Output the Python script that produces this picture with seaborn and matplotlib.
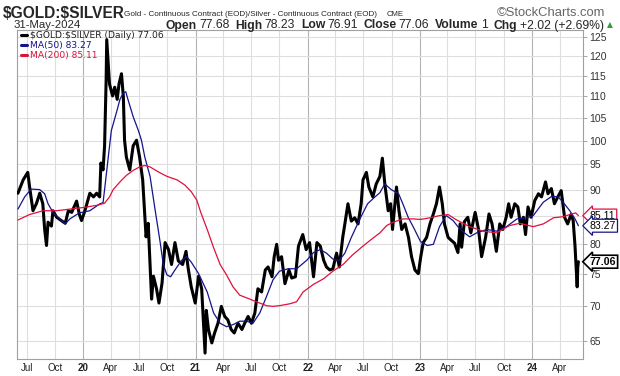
import pandas as pd
import seaborn as sns
import matplotlib.pyplot as plt
from matplotlib.lines import Line2D
from matplotlib.ticker import FixedLocator, FixedFormatter, NullLocator


price_dates = ['2019-06-03', '2019-06-20', '2019-07-05', '2019-07-11', '2019-07-22', '2019-08-02',
               '2019-08-13', '2019-08-23', '2019-08-29', '2019-09-04', '2019-09-09', '2019-09-20',
               '2019-09-25', '2019-10-07', '2019-10-22', '2019-11-04', '2019-11-14', '2019-11-25',
               '2019-12-11', '2019-12-20', '2019-12-27', '2020-01-07', '2020-01-23', '2020-02-04',
               '2020-02-14', '2020-02-24', '2020-02-28', '2020-03-06', '2020-03-11', '2020-03-16',
               '2020-03-18', '2020-03-23', '2020-03-27', '2020-04-06', '2020-04-13', '2020-04-21',
               '2020-04-27', '2020-05-05', '2020-05-11', '2020-05-15', '2020-05-21', '2020-06-01',
               '2020-06-12', '2020-06-23', '2020-07-03', '2020-07-13', '2020-07-20', '2020-07-24',
               '2020-07-31', '2020-08-06', '2020-08-11', '2020-08-17', '2020-08-27', '2020-09-04',
               '2020-09-14', '2020-09-24', '2020-10-05', '2020-10-15', '2020-10-26', '2020-11-06',
               '2020-11-20', '2020-12-01', '2020-12-08', '2020-12-18', '2020-12-31', '2021-01-11',
               '2021-01-21', '2021-02-01', '2021-02-05', '2021-02-12', '2021-02-23', '2021-03-04',
               '2021-03-15', '2021-03-26', '2021-04-06', '2021-04-16', '2021-04-27', '2021-05-07',
               '2021-05-19', '2021-06-01', '2021-06-10', '2021-06-21', '2021-07-02', '2021-07-13',
               '2021-07-23', '2021-08-04', '2021-08-16', '2021-08-25', '2021-09-07', '2021-09-14',
               '2021-09-22', '2021-09-28', '2021-10-08', '2021-10-19', '2021-11-01', '2021-11-10',
               '2021-11-22', '2021-12-02', '2021-12-16', '2021-12-27', '2022-01-07', '2022-01-20',
               '2022-01-31', '2022-02-11', '2022-02-22', '2022-03-03', '2022-03-14', '2022-03-24',
               '2022-04-05', '2022-04-14', '2022-04-25', '2022-05-02', '2022-05-12', '2022-05-23',
               '2022-06-03', '2022-06-14', '2022-06-24', '2022-06-30', '2022-07-11', '2022-07-19',
               '2022-08-01', '2022-08-12', '2022-08-24', '2022-09-01', '2022-09-09', '2022-09-20',
               '2022-09-28', '2022-10-04', '2022-10-12', '2022-10-17', '2022-10-25', '2022-11-03',
               '2022-11-14', '2022-11-25', '2022-12-05', '2022-12-16', '2022-12-27', '2023-01-04',
               '2023-01-12', '2023-01-23', '2023-02-03', '2023-02-14', '2023-02-24', '2023-03-06',
               '2023-03-15', '2023-03-22', '2023-04-03', '2023-04-13', '2023-04-24', '2023-05-05',
               '2023-05-12', '2023-05-17', '2023-05-26', '2023-06-06', '2023-06-16', '2023-06-30',
               '2023-07-11', '2023-07-21', '2023-08-03', '2023-08-14', '2023-08-24', '2023-09-07',
               '2023-09-18', '2023-09-28', '2023-10-09', '2023-10-17', '2023-10-25', '2023-11-06',
               '2023-11-16', '2023-11-24', '2023-12-04', '2023-12-11', '2023-12-19', '2023-12-29',
               '2024-01-10', '2024-01-22', '2024-02-01', '2024-02-14', '2024-02-22', '2024-03-04',
               '2024-03-14', '2024-03-25', '2024-04-05', '2024-04-16', '2024-04-26', '2024-05-07',
               '2024-05-14', '2024-05-20', '2024-05-23', '2024-05-27', '2024-05-29', '2024-05-31']
price_vals = [89.3, 91.9, 93.4, 90.5, 86.0, 87.3,
              89.3, 87.3, 82.6, 79.8, 83.9, 83.2,
              86.0, 84.8, 84.2, 83.7, 86.0, 85.7,
              87.8, 85.3, 84.2, 86.0, 89.3, 88.6,
              89.3, 88.6, 95.3, 93.9, 98.9, 113.7,
              124.3, 117.7, 113.0, 110.1, 112.2, 109.3,
              113.0, 115.5, 110.0, 100.1, 96.5, 93.9,
              98.9, 100.1, 96.5, 91.9, 85.0, 81.3,
              83.7, 76.6, 71.1, 74.7, 72.7, 70.5,
              73.6, 80.3, 79.1, 76.6, 80.3, 77.2,
              76.6, 78.8, 76.0, 73.0, 70.5, 74.7,
              72.7, 63.3, 69.4, 66.6, 64.7, 66.1,
              67.5, 70.0, 68.5, 68.0, 66.6, 66.1,
              67.5, 66.6, 67.5, 68.5, 67.5, 69.0,
              72.7, 72.2, 75.7, 76.2, 74.6, 77.9,
              80.0, 77.3, 77.9, 73.5, 75.7, 74.4,
              74.6, 79.7, 81.7, 79.1, 80.3, 74.6,
              80.3, 79.7, 77.3, 76.2, 75.7, 75.9,
              78.5, 76.2, 81.2, 83.6, 87.3, 84.1,
              84.7, 83.6, 87.3, 91.9, 93.4, 90.5,
              88.6, 91.1, 92.6, 96.3, 91.1, 86.0,
              87.3, 82.6, 87.3, 90.5, 86.0, 82.6,
              83.6, 81.2, 77.9, 75.7, 75.1, 77.9,
              80.3, 81.2, 83.6, 85.4, 87.3, 90.5,
              87.3, 83.6, 81.2, 80.7, 80.2, 78.6,
              83.6, 79.5, 84.0, 84.8, 82.0, 85.7,
              82.6, 77.9, 81.2, 85.4, 83.6, 78.8,
              83.6, 82.6, 84.8, 87.3, 84.8, 87.3,
              86.7, 83.6, 84.8, 81.7, 86.7, 84.8,
              87.9, 89.2, 88.6, 91.5, 89.2, 90.2,
              87.3, 88.6, 89.8, 84.8, 83.6, 85.3,
              84.2, 79.7, 76.6, 73.0, 76.2, 77.06]

ma50_dates = ['2019-06-03', '2019-06-25', '2019-07-16', '2019-08-13', '2019-08-29', '2019-09-09',
              '2019-09-25', '2019-10-17', '2019-11-04', '2019-11-19', '2019-12-20', '2020-01-23',
              '2020-02-25', '2020-03-06', '2020-03-11', '2020-03-23', '2020-04-02', '2020-04-20',
              '2020-04-30', '2020-05-11', '2020-05-19', '2020-05-26', '2020-06-12', '2020-06-29',
              '2020-07-09', '2020-07-20', '2020-08-06', '2020-08-21', '2020-09-08', '2020-09-18',
              '2020-09-30', '2020-10-12', '2020-10-26', '2020-11-17', '2020-12-03', '2020-12-18',
              '2021-01-11', '2021-02-08', '2021-03-01', '2021-03-22', '2021-04-12', '2021-05-03',
              '2021-05-25', '2021-06-16', '2021-07-07', '2021-07-29', '2021-08-20', '2021-09-10',
              '2021-10-01', '2021-10-29', '2021-11-26', '2021-12-29', '2022-01-20', '2022-02-11',
              '2022-03-03', '2022-03-24', '2022-04-14', '2022-05-02', '2022-05-23', '2022-06-20',
              '2022-07-15', '2022-08-08', '2022-08-24', '2022-09-09', '2022-09-30', '2022-10-24',
              '2022-11-08', '2022-11-24', '2022-12-12', '2023-01-03', '2023-01-25', '2023-02-14',
              '2023-03-06', '2023-03-28', '2023-04-19', '2023-05-05', '2023-05-26', '2023-06-12',
              '2023-07-05', '2023-08-07', '2023-09-08', '2023-10-10', '2023-11-13', '2023-12-14',
              '2024-01-05', '2024-02-07', '2024-03-05', '2024-03-26', '2024-04-11', '2024-05-03',
              '2024-05-20', '2024-05-31']
ma50_vals = [86.3, 88.6, 90.1, 90.0, 89.2, 87.3,
             85.7, 84.5, 83.6, 84.5, 85.6, 86.0,
             87.3, 87.5, 90.0, 96.5, 102.2, 106.6,
             109.3, 110.8, 111.1, 109.3, 105.3, 102.2,
             100.1, 96.5, 92.6, 86.7, 80.3, 76.6,
             74.9, 74.6, 75.7, 77.3, 77.9, 77.0,
             75.1, 72.2, 69.0, 67.5, 67.0, 67.3,
             67.8, 67.8, 67.5, 69.0, 71.5, 74.1,
             75.5, 75.9, 75.9, 77.3, 78.6, 79.1,
             78.5, 77.5, 77.3, 78.5, 81.2, 84.5,
             87.3, 88.6, 89.4, 91.1, 90.0, 89.2,
             87.1, 84.8, 82.9, 80.5, 79.8, 80.0,
             83.1, 85.1, 84.2, 83.1, 82.0, 81.3,
             82.0, 82.6, 82.3, 83.1, 84.5, 84.7,
             85.1, 87.6, 88.7, 88.6, 87.6, 86.0,
             84.5, 83.27]

ma200_dates = ['2019-06-03', '2019-07-11', '2019-08-24', '2019-10-07', '2019-11-19', '2020-01-02',
               '2020-02-14', '2020-03-11', '2020-03-27', '2020-04-08', '2020-04-30', '2020-05-21',
               '2020-06-12', '2020-07-03', '2020-07-20', '2020-08-06', '2020-09-02', '2020-09-30',
               '2020-11-02', '2020-11-27', '2020-12-18', '2021-01-05', '2021-01-18', '2021-02-08',
               '2021-03-01', '2021-03-22', '2021-04-12', '2021-05-03', '2021-05-25', '2021-06-16',
               '2021-07-07', '2021-07-29', '2021-08-20', '2021-09-10', '2021-10-01', '2021-11-05',
               '2021-11-26', '2021-12-17', '2022-01-20', '2022-02-22', '2022-03-24', '2022-04-26',
               '2022-05-27', '2022-06-30', '2022-08-02', '2022-08-24', '2022-09-15', '2022-10-06',
               '2022-11-08', '2022-12-12', '2023-01-03', '2023-02-03', '2023-03-06', '2023-04-03',
               '2023-04-28', '2023-05-22', '2023-06-12', '2023-07-25', '2023-09-08', '2023-10-20',
               '2023-11-22', '2024-01-05', '2024-02-07', '2024-03-11', '2024-04-11', '2024-05-03',
               '2024-05-22', '2024-05-31']
ma200_vals = [84.3, 85.3, 86.0, 86.0, 86.3, 86.6,
              87.0, 87.4, 88.6, 90.0, 91.5, 92.8,
              93.8, 94.5, 94.8, 94.5, 93.5, 92.6,
              91.9, 90.9, 89.6, 88.0, 85.7, 82.6,
              79.4, 76.6, 74.9, 73.0, 71.7, 71.3,
              70.9, 70.5, 70.1, 70.0, 70.1, 70.4,
              70.7, 72.2, 73.4, 74.3, 75.5, 76.6,
              78.2, 79.7, 81.1, 82.0, 83.3, 83.9,
              84.5, 84.5, 84.4, 84.7, 85.1, 85.3,
              84.4, 83.7, 83.1, 82.3, 82.0, 83.3,
              83.7, 83.1, 83.6, 84.7, 84.9, 85.3,
              85.6, 85.11]

y_ticks = [65, 70, 75, 80, 85, 90, 95, 100, 105, 110, 115, 120, 125]
last_close, last_ma50, last_ma200 = 77.06, 83.27, 85.11

c_ma50 = '#14148c'
c_ma200 = '#e0103c'

sns.set_style('white')
plt.rcParams['font.family'] = ['Liberation Sans', 'DejaVu Sans']

W, H = 620, 376
fig = plt.figure(figsize=(W / 100, H / 100), dpi=100)
ax = fig.add_axes([16.7 / W, 1 - 359 / H, 566 / W, 329 / H])

# quarter grid, darker on January
quarters = pd.date_range('2019-07-01', '2024-04-01', freq='QS')
for q in quarters:
    ax.axvline(q, color='#b4b4b4' if q.month == 1 else '#dedede', lw=0.8, zorder=0)
for v in y_ticks:
    ax.axhline(v, color='#dedede', lw=0.8, zorder=0)

sns.lineplot(x=pd.to_datetime(price_dates), y=price_vals, color='black', lw=2.2, ax=ax, zorder=3)
sns.lineplot(x=pd.to_datetime(ma50_dates), y=ma50_vals, color=c_ma50, lw=0.9, ax=ax, zorder=4)
sns.lineplot(x=pd.to_datetime(ma200_dates), y=ma200_vals, color=c_ma200, lw=0.9, ax=ax, zorder=4)

ax.set_yscale('log')
ax.set_ylim(62.5, 126.9)
ax.set_xlim(pd.Timestamp('2019-05-30'), pd.Timestamp('2024-06-14'))
ax.yaxis.set_major_locator(FixedLocator(y_ticks))
# the 85 label sits under the MA(200) tag, as on the reference
ax.yaxis.set_major_formatter(FixedFormatter(['' if v == 85 else str(v) for v in y_ticks]))
ax.yaxis.set_minor_locator(NullLocator())
ax.yaxis.tick_right()
ax.tick_params(axis='y', which='major', length=3, width=0.6, color='#999999', pad=2,
               labelsize=7.5, labelcolor='#333333')

ax.set_xticks(quarters)
ax.set_xticklabels([q.strftime('%y') if q.month == 1 else q.strftime('%b') for q in quarters])
ax.tick_params(axis='x', length=0, pad=3, labelsize=7, labelcolor='#222222')
for q, lab in zip(quarters, ax.get_xticklabels()):
    if q.month == 1:
        lab.set_fontweight('bold')
ax.set_xlabel('')
ax.set_ylabel('')
for s in ax.spines.values():
    s.set_color('#a0a0a0')
    s.set_linewidth(0.8)

handles = [Line2D([], [], color='black', lw=2.2),
           Line2D([], [], color=c_ma50, lw=2.2),
           Line2D([], [], color=c_ma200, lw=2.2)]
labels = [r'\$GOLD:\$SILVER (Daily) 77.06', 'MA(50) 83.27', 'MA(200) 85.11']
leg = ax.legend(handles, labels, loc='upper left', bbox_to_anchor=(0.0, 1.01), frameon=False,
                handlelength=0.6, handletextpad=0.3, borderaxespad=0.1, labelspacing=0.12,
                prop={'family': 'DejaVu Sans', 'size': 6.6}, labelcolor='linecolor')
leg.texts[0].set_color('#222222')

# value tags on the right edge
for val, col, lw, wt in [(last_ma200, c_ma200, 0.9, 'normal'), (last_ma50, c_ma50, 0.9, 'normal'),
                         (last_close, 'black', 1.2, 'bold')]:
    ax.annotate(f'{val:.2f}', xy=(1.0, val), xycoords=('axes fraction', 'data'),
                xytext=(5, 0), textcoords='offset points', ha='left', va='center',
                fontsize=7.6, fontweight=wt, color='black', zorder=10, annotation_clip=False,
                bbox=dict(boxstyle='larrow,pad=0.14', fc='white', ec=col, lw=lw))


# header
def fx(x):
    return x / W


def fy(y):
    return 1 - y / H


fig.text(fx(3), fy(17.5), r'\$GOLD:\$SILVER', fontsize=11.2, fontweight='bold', va='baseline')
fig.text(fx(124), fy(16), 'Gold - Continuous Contract (EOD)/Silver - Continuous Contract (EOD)',
         fontsize=5.9, va='baseline')
fig.text(fx(387), fy(16), 'CME', fontsize=5.6, va='baseline')
fig.text(fx(497), fy(16), '\u00a9StockCharts.com', fontsize=9.4, va='baseline', color='#666666')
fig.text(fx(14), fy(28.5), '31-May-2024', fontsize=8.2, va='baseline')

renderer = fig.canvas.get_renderer()
parts = [('Open', 'bold', 2), ('77.68', 'normal', 6), ('High', 'bold', 2), ('78.23', 'normal', 6),
         ('Low', 'bold', 2), ('76.91', 'normal', 6), ('Close', 'bold', 2), ('77.06', 'normal', 6),
         ('Volume', 'bold', 2), ('1', 'normal', 6), ('Chg', 'bold', 3), ('+2.02 (+2.69%)', 'normal', 3)]
x = 166
for s, w, gap in parts:
    t = fig.text(fx(x), fy(28.5), s, fontsize=8.7, fontweight=w, va='baseline')
    x = t.get_window_extent(renderer).x1 + gap
fig.text(fx(x), fy(27.5), '\u25b2', fontsize=5.5, va='baseline', color='#2e9d3a',
         family='DejaVu Sans')

fig.savefig('out.png', dpi=100)
